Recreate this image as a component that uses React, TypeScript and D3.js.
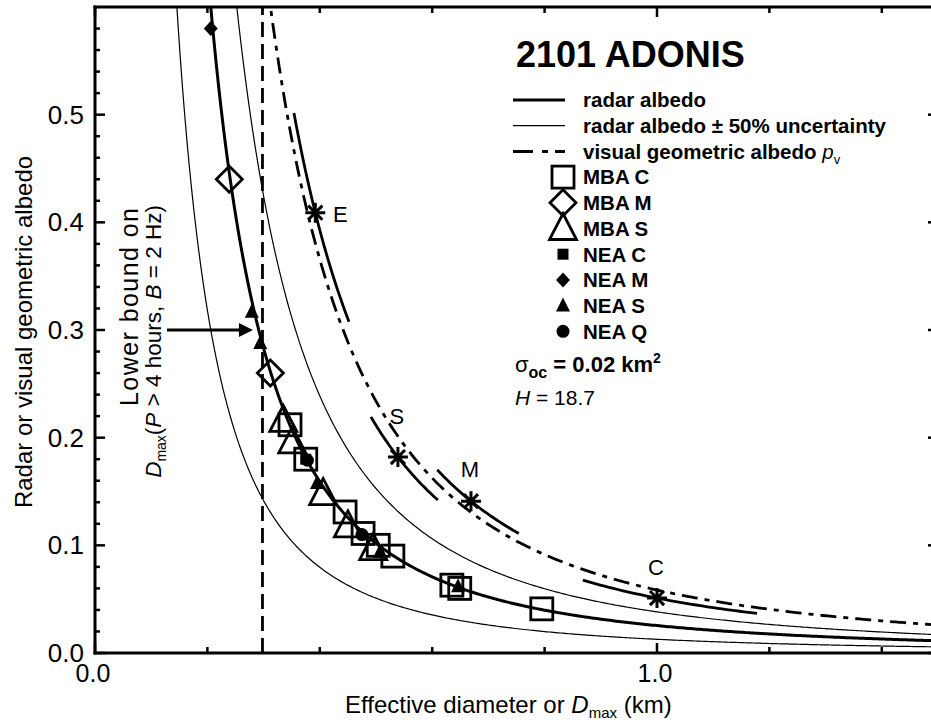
import React from 'react';
import * as d3 from 'd3';

// ---------- data ----------
const X_DOMAIN: [number, number] = [0, 1.5];
const Y_DOMAIN: [number, number] = [0, 0.6];
const xLabelTicks = [0.0, 1.0];
const xMinorTicks = [0.2, 0.4, 0.6, 0.8, 1.2, 1.4];
const yLabelTicks = [0.0, 0.1, 0.2, 0.3, 0.4, 0.5];
const yMinorTicks = [0.02, 0.04, 0.06, 0.08, 0.12, 0.14, 0.16, 0.18, 0.22, 0.24, 0.26, 0.28, 0.32, 0.34, 0.36, 0.38, 0.42, 0.44, 0.46, 0.48, 0.52, 0.54, 0.56, 0.58];

const SIGMA_OC = 0.02; // km^2
const H_MAG = 18.7;
const UNCERTAINTY = [0.5, 1.5];
const D_MAX_BOUND = 0.298; // km
const ARROW_ALBEDO = 0.3;
const ARROW_D = [0.128, 0.281];

// taxonomic class asterisks (visual albedo)
const classNames = ['E', 'S', 'M', 'C'];
const classAlbedo = [0.409, 0.182, 0.141, 0.051];
const classDiameter = [0.392, 0.539, 0.669, 1.0];
const classSegLo = [0.354, 0.491, 0.609, 0.868];
const classSegHi = [0.452, 0.61, 0.754, 1.178];

// radar albedo markers
const mbaC_D = [0.347, 0.375, 0.445, 0.477, 0.504, 0.53, 0.635, 0.649, 0.795];
const mbaC_A = [0.212, 0.18, 0.131, 0.111, 0.1, 0.09, 0.063, 0.06, 0.041];
const mbaM_D = [0.239, 0.312];
const mbaM_A = [0.44, 0.26];
const mbaS_D = [0.335, 0.351, 0.406, 0.45, 0.495];
const mbaS_A = [0.216, 0.196, 0.148, 0.118, 0.097];
const neaC_D = [0.375];
const neaC_A = [0.18];
const neaM_D = [0.206];
const neaM_A = [0.58];
const neaS_D = [0.279, 0.294, 0.395, 0.507, 0.646];
const neaS_A = [0.317, 0.288, 0.158, 0.094, 0.062];
const neaQ_D = [0.378, 0.475];
const neaQ_A = [0.179, 0.11];

const legendLabels = ['radar albedo', 'radar albedo \u00b1 50% uncertainty', 'visual geometric albedo', 'MBA C', 'MBA M', 'MBA S', 'NEA C', 'NEA M', 'NEA S', 'NEA Q'];

// ---------- layout ----------
const W = 931, HGT = 724;
const L = 95, R = 938, T = 7, B = 653;
const FONT = '"Liberation Sans", Arial, Helvetica, sans-serif';

const x = d3.scaleLinear().domain(X_DOMAIN).range([L, R]);
const y = d3.scaleLinear().domain(Y_DOMAIN).range([B, T]);

const radarAlbedo = (D: number) => (4 * SIGMA_OC) / (Math.PI * D * D);
const visualAlbedo = (D: number) => Math.pow((1329 * Math.pow(10, -H_MAG / 5)) / D, 2);

const Ds = d3.range(0.1, 1.6, 0.004);
const line = d3.line<[number, number]>().x(d => x(d[0])).y(d => y(d[1])).curve(d3.curveLinear);

function Marker({ kind, cx, cy }: { kind: string; cx: number; cy: number }) {
  const sw = 2.8;
  switch (kind) {
    case 'openSquare':
      return <rect x={cx - 11} y={cy - 11} width={22} height={22} fill="none" stroke="#000" strokeWidth={sw} />;
    case 'openDiamond':
      return <path d={`M${cx},${cy - 13}L${cx + 13},${cy}L${cx},${cy + 13}L${cx - 13},${cy}Z`} fill="none" stroke="#000" strokeWidth={sw} />;
    case 'openTriangle':
      return <path d={`M${cx},${cy - 15}L${cx + 13.5},${cy + 11}L${cx - 13.5},${cy + 11}Z`} fill="none" stroke="#000" strokeWidth={sw} />;
    case 'fillSquare':
      return <rect x={cx - 5.5} y={cy - 5.5} width={11} height={11} fill="#000" />;
    case 'fillDiamond':
      return <path d={`M${cx},${cy - 7.5}L${cx + 7},${cy}L${cx},${cy + 7.5}L${cx - 7},${cy}Z`} fill="#000" />;
    case 'fillTriangle':
      return <path d={`M${cx},${cy - 8}L${cx + 7},${cy + 6}L${cx - 7},${cy + 6}Z`} fill="#000" />;
    case 'fillCircle':
      return <circle cx={cx} cy={cy} r={6.5} fill="#000" />;
    default:
      return null;
  }
}

function Asterisk({ cx, cy }: { cx: number; cy: number }) {
  const r = 10;
  const d = [0, 45, 90, 135]
    .map(a => {
      const t = (a * Math.PI) / 180;
      const dx = r * Math.cos(t), dy = r * Math.sin(t);
      return `M${cx - dx},${cy - dy}L${cx + dx},${cy + dy}`;
    })
    .join('');
  return <path d={d} stroke="#000" strokeWidth={3} fill="none" />;
}

const series = [
  { kind: 'openSquare', D: mbaC_D, A: mbaC_A },
  { kind: 'openDiamond', D: mbaM_D, A: mbaM_A },
  { kind: 'openTriangle', D: mbaS_D, A: mbaS_A },
  { kind: 'fillSquare', D: neaC_D, A: neaC_A },
  { kind: 'fillDiamond', D: neaM_D, A: neaM_A },
  { kind: 'fillTriangle', D: neaS_D, A: neaS_A },
  { kind: 'fillCircle', D: neaQ_D, A: neaQ_A },
];

const classLabelOffset = [
  [25, 2],
  [-1, -41],
  [-1, -32],
  [-1, -31],
];

export default function App() {
  const radarPts = Ds.map(D => [D, radarAlbedo(D)] as [number, number]);
  const uncPts = UNCERTAINTY.map(f => Ds.map(D => [D, f * radarAlbedo(D)] as [number, number]));
  const visPts = Ds.map(D => [D, visualAlbedo(D)] as [number, number]);
  const segs = classNames.map((_, i) => {
    const k = classAlbedo[i] * classDiameter[i] * classDiameter[i];
    const ds = d3.range(classSegLo[i], classSegHi[i] + 0.0001, (classSegHi[i] - classSegLo[i]) / 40);
    return ds.map(D => [D, k / (D * D)] as [number, number]);
  });

  const legX1 = 513, legX2 = 565, legMX = 563, legTX = 583;
  const legY0 = 100, legDY = 25.7;

  return (
    <svg width={W} height={HGT} style={{ position: 'absolute', left: 0, top: 0, background: '#fff' }} fontFamily={FONT}>
      <rect x={0} y={0} width={W} height={HGT} fill="#fff" />
      <defs>
        <clipPath id="plot">
          <rect x={L} y={T} width={R - L} height={B - T} />
        </clipPath>
      </defs>

      {/* curves */}
      <g clipPath="url(#plot)" fill="none" stroke="#000">
        {uncPts.map((p, i) => (
          <path key={i} d={line(p) || ''} strokeWidth={1.2} />
        ))}
        <path d={line(radarPts) || ''} strokeWidth={3} />
        <path d={line(visPts) || ''} strokeWidth={2.8} strokeDasharray="16,7,5,7" />
        {segs.map((p, i) => (
          <path key={i} d={line(p) || ''} strokeWidth={2.8} />
        ))}
        <line x1={x(D_MAX_BOUND)} x2={x(D_MAX_BOUND)} y1={B} y2={T} strokeWidth={2.8} strokeDasharray="15,7" />
      </g>

      {/* markers */}
      <g>
        {series.map(s =>
          s.D.map((D, i) => <Marker key={s.kind + i} kind={s.kind} cx={x(D)} cy={y(s.A[i])} />)
        )}
      </g>

      {/* asterisks */}
      {classNames.map((c, i) => (
        <g key={c}>
          <Asterisk cx={x(classDiameter[i])} cy={y(classAlbedo[i])} />
          <text
            x={x(classDiameter[i]) + classLabelOffset[i][0]}
            y={y(classAlbedo[i]) + classLabelOffset[i][1]}
            fontSize={22}
            textAnchor="middle"
            dy="0.35em"
          >
            {c}
          </text>
        </g>
      ))}

      {/* arrow */}
      <line x1={x(ARROW_D[0])} x2={x(ARROW_D[1]) - 10} y1={y(ARROW_ALBEDO)} y2={y(ARROW_ALBEDO)} stroke="#000" strokeWidth={3} />
      <path
        d={`M${x(ARROW_D[1])},${y(ARROW_ALBEDO)}L${x(ARROW_D[1]) - 14},${y(ARROW_ALBEDO) - 7}L${x(ARROW_D[1]) - 14},${y(ARROW_ALBEDO) + 7}Z`}
        fill="#000"
      />

      {/* annotation */}
      <text transform="translate(138,208) rotate(-90)" textAnchor="end" fontSize={25} textLength={198} lengthAdjust="spacing">
        Lower bound on
      </text>
      <text transform="translate(161,205) rotate(-90)" textAnchor="end" fontSize={22.5}>
        <tspan fontStyle="italic">D</tspan>
        <tspan fontSize={14} dy={5}>max</tspan>
        <tspan dy={-5}>(</tspan>
        <tspan fontStyle="italic">P</tspan>
        <tspan>{' > 4 hours, '}</tspan>
        <tspan fontStyle="italic">B</tspan>
        <tspan>{' = 2 Hz)'}</tspan>
      </text>

      {/* axes */}
      <g stroke="#000" strokeWidth={3} fill="none">
        <line x1={L} x2={L} y1={T - 1.5} y2={B + 1.5} />
        <line x1={L - 1.5} x2={R} y1={B} y2={B} />
        <line x1={L - 1.5} x2={R} y1={T} y2={T} />
        <line x1={R} x2={R} y1={T} y2={B} />
      </g>
      <g stroke="#000" strokeWidth={2.5}>
        {yLabelTicks.map(v => (
          <g key={'ym' + v}>
            <line x1={L} x2={L + 10} y1={y(v)} y2={y(v)} />
            <line x1={R} x2={R - 10} y1={y(v)} y2={y(v)} />
          </g>
        ))}
        {yMinorTicks.map(v => (
          <line key={'yn' + v} x1={L} x2={L + 5} y1={y(v)} y2={y(v)} />
        ))}
        {xMinorTicks.map(v => (
          <g key={'xn' + v}>
            <line x1={x(v)} x2={x(v)} y1={B} y2={B - 6} />
            <line x1={x(v)} x2={x(v)} y1={T} y2={T + 6} />
          </g>
        ))}
        {xLabelTicks.map(v => (
          <g key={'xm' + v}>
            <line x1={x(v)} x2={x(v)} y1={B} y2={B - 10} />
            <line x1={x(v)} x2={x(v)} y1={T} y2={T + 10} />
          </g>
        ))}
      </g>

      {/* tick labels */}
      {yLabelTicks.map(v => (
        <text key={'yl' + v} x={84} y={y(v)} dy="0.35em" textAnchor="end" fontSize={26}>
          {d3.format('.1f')(v)}
        </text>
      ))}
      {xLabelTicks.map(v => (
        <text key={'xl' + v} x={x(v) - 2} y={682} textAnchor="middle" fontSize={25}>
          {d3.format('.1f')(v)}
        </text>
      ))}

      {/* axis titles */}
      <text x={345} y={713} fontSize={24}>
        <tspan>Effective diameter or </tspan>
        <tspan fontStyle="italic">D</tspan>
        <tspan fontSize={15} dy={5}>max</tspan>
        <tspan dy={-5}>{' (km)'}</tspan>
      </text>
      <text transform={`translate(32,${(T + B) / 2 + 2}) rotate(-90)`} textAnchor="middle" fontSize={24}>
        Radar or visual geometric albedo
      </text>

      {/* title and legend */}
      <text x={516} y={67} fontSize={36} fontWeight="bold">
        2101 ADONIS
      </text>
      <g stroke="#000" fill="none">
        <line x1={legX1} x2={legX2} y1={legY0} y2={legY0} strokeWidth={3} />
        <line x1={legX1} x2={legX2} y1={legY0 + legDY} y2={legY0 + legDY} strokeWidth={1.2} />
        <line x1={legX1} x2={legX2} y1={legY0 + 2 * legDY} y2={legY0 + 2 * legDY} strokeWidth={3} strokeDasharray="20,9,6,7" />
      </g>
      {series.map((s, i) => (
        <Marker key={'lg' + i} kind={s.kind} cx={legMX} cy={legY0 + (i + 3) * legDY} />
      ))}
      {legendLabels.map((t, i) => (
        <text key={'lt' + i} x={legTX} y={legY0 + i * legDY} dy="0.36em" fontSize={20.5} fontWeight="bold">
          {t}
          {i === 2 ? (
            <>
              <tspan fontStyle="italic" fontWeight="normal">{' p'}</tspan>
              <tspan fontWeight="normal" fontSize={13} dy={5}>v</tspan>
            </>
          ) : null}
        </text>
      ))}
      <text x={515} y={372} fontSize={22}>
        <tspan>σ</tspan>
        <tspan fontSize={16} fontWeight="bold" dy={6}>oc</tspan>
        <tspan fontWeight="bold" dy={-6}>{' =  0.02 km'}</tspan>
        <tspan fontWeight="bold" fontSize={14} dy={-9}>2</tspan>
      </text>
      <text x={515} y={405} fontSize={21}>
        <tspan fontStyle="italic">H</tspan>
        <tspan>{' = 18.7'}</tspan>
      </text>
    </svg>
  );
}
